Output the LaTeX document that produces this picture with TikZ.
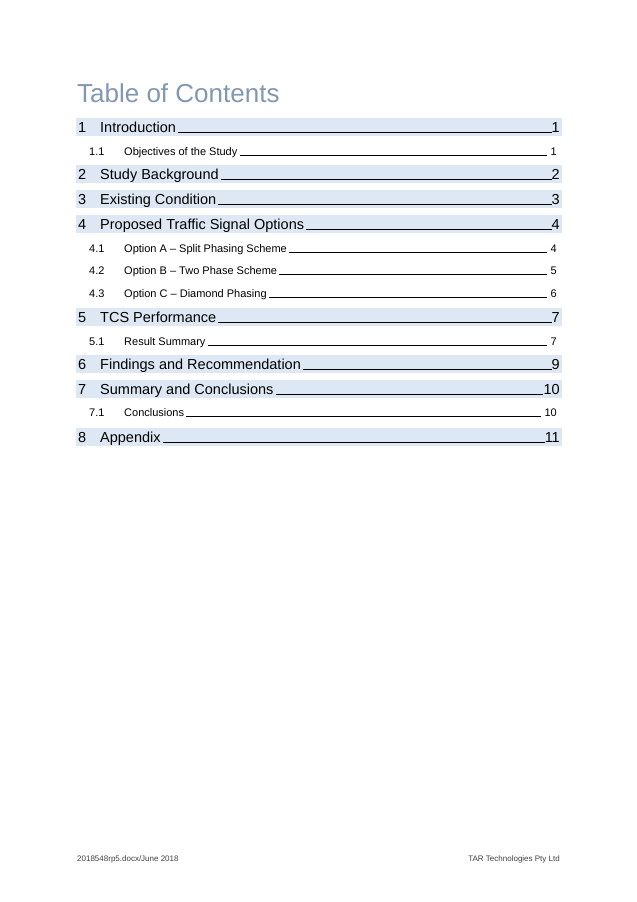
\documentclass[tikz,border=0pt]{standalone}
\usepackage{fontspec}
\setmainfont{Liberation Sans}
\definecolor{tocband}{HTML}{DDE8F4}
\definecolor{titleblue}{HTML}{8497B0}
\tikzset{
  lvlone/.style={anchor=base west, inner sep=0pt, font=\fontsize{14.5}{16}\selectfont},
  lvltwo/.style={anchor=base west, inner sep=0pt, font=\fontsize{11}{13}\selectfont},
  leader/.style={line width=0.6pt},
  foot/.style={anchor=base west, inner sep=0pt, text=black!75, font=\fontsize{8}{9}\selectfont}
}
\begin{document}
\begin{tikzpicture}[x=1pt,y=-1pt]
  \useasboundingbox (0,0) rectangle (637,902);
  \node (title) [anchor=base west, inner sep=0pt, text=titleblue, font=\fontsize{26}{30}\selectfont] at (77,102) {Table of Contents};
  % main entries
  \foreach \n/\t/\p/\y [count=\i] in {1/Introduction/1/132, 2/Study Background/2/179, 3/Existing Condition/3/204,
      4/Proposed Traffic Signal Options/4/229, 5/TCS Performance/7/322, 6/Findings and Recommendation/9/369,
      7/Summary and Conclusions/10/394, 8/Appendix/11/442}{
    \fill[tocband] (76,\y-14) rectangle (562,\y+4);
    \node (num\i) [lvlone] at (78,\y) {\n};
    \node (ent\i) [lvlone] at (100,\y) {\t};
    \node (pg\i) [lvlone, anchor=base east] at (560,\y) {\p};
    \draw[leader] ([xshift=2pt]ent\i.base east) -- (pg\i.base west);
  }
  % sub entries
  \foreach \n/\t/\p/\y [count=\i] in {1.1/Objectives of the Study/1/155, 4.1/Option A -- Split Phasing Scheme/4/252,
      4.2/Option B -- Two Phase Scheme/5/274, 4.3/Option C -- Diamond Phasing/6/297,
      5.1/Result Summary/7/345, 7.1/Conclusions/10/416}{
    \node (snum\i) [lvltwo] at (89,\y) {\n};
    \node (sent\i) [lvltwo] at (124,\y) {\t};
    \node (spg\i) [lvltwo, anchor=base east] at (557,\y) {\p};
    \draw[leader] ([xshift=2pt]sent\i.base east) -- ([xshift=-3pt]spg\i.base west);
  }
  % footer
  \node (footl) [foot] at (77,861) {2018548rp5.docx/June 2018};
  \node (footr) [foot, anchor=base east] at (560,861) {TAR Technologies Pty Ltd};
\end{tikzpicture}
\end{document}
